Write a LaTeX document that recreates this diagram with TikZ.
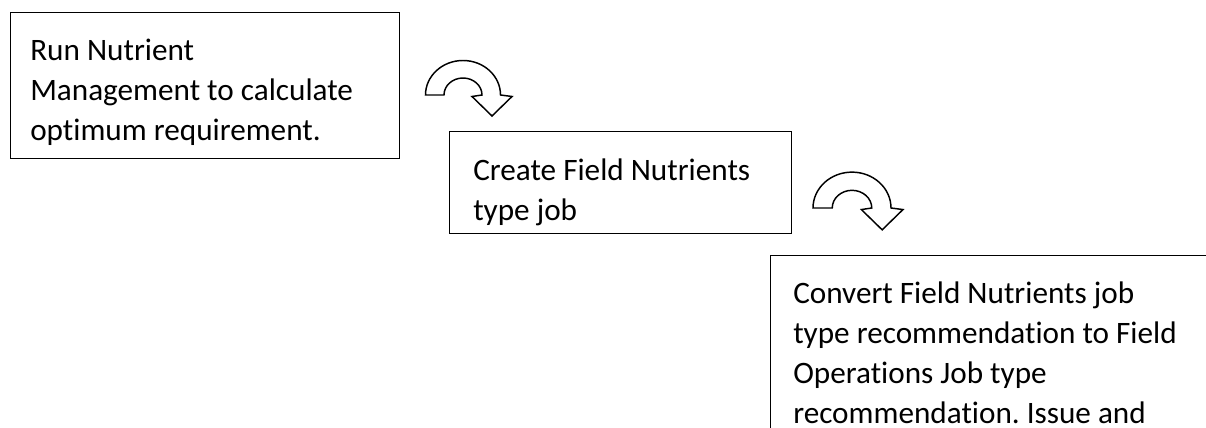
\documentclass[tikz,border=0pt]{standalone}
\usepackage{fontspec}
\setmainfont{Carlito}[Ligatures=NoCommon]
\frenchspacing
\tikzset{
  box/.style={draw, line width=1pt, anchor=north west, inner sep=0pt},
  txt/.style={anchor=base west, align=left, inner sep=0pt,
    font=\fontsize{23.4}{30}\selectfont},
  turnarrow/.pic={
    \draw[line width=1.1pt, line join=miter, fill=white]
      (-37.5,0) arc[start angle=180, end angle=360, x radius=37.5, y radius=34.5]
      -- (49,1.5) -- (29,21) -- (9,1.5) -- (19,0)
      arc[start angle=0, end angle=-180, x radius=19, y radius=17] -- cycle;
  }
}
\begin{document}
\begin{tikzpicture}[x=0.75pt, y=-0.75pt]
  \clip (0,0) rectangle (1206,428);
  \node[box, minimum width=291.75pt, minimum height=109.5pt] (b1) at (10,12) {};
  \node[box, minimum width=256.5pt, minimum height=76.5pt] (b2) at (449,131) {};
  \node[box, minimum width=360pt, minimum height=165pt] (b3) at (770,255) {};
  \node[txt] (t1) at (30,140) {Run Nutrient\\Management to calculate\\optimum requirement.};
  \node[txt] (t2) at (473,220) {Create Field Nutrients\\type job};
  \node[txt] (t3) at (793,423) {Convert Field Nutrients job\\type recommendation to Field\\Operations Job type\\recommendation. Issue and};
  \pic at (463,95) {turnarrow};
  \pic[scale=1.04] at (852,208) {turnarrow};
\end{tikzpicture}
\end{document}
